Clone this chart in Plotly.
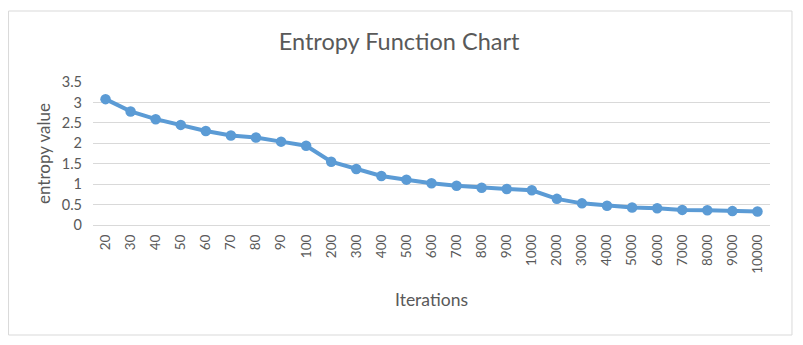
import plotly.graph_objects as go

iterations = ["20", "30", "40", "50", "60", "70", "80", "90", "100",
              "200", "300", "400", "500", "600", "700", "800", "900", "1000",
              "2000", "3000", "4000", "5000", "6000", "7000", "8000", "9000", "10000"]
entropy = [3.08, 2.78, 2.59, 2.45, 2.30, 2.19, 2.14, 2.04, 1.94,
           1.55, 1.37, 1.20, 1.11, 1.02, 0.96, 0.91, 0.88, 0.85,
           0.64, 0.53, 0.47, 0.43, 0.41, 0.37, 0.36, 0.34, 0.33]

FONT = "Lato"
GRAY = "#595959"

fig = go.Figure()
fig.add_trace(go.Scatter(
    x=iterations, y=entropy, mode="lines+markers",
    line=dict(color="#5B9BD5", width=4),
    marker=dict(color="#5B9BD5", size=10.5),
    showlegend=False,
))

fig.update_layout(
    width=803, height=345,
    margin=dict(l=92.5, r=33, t=82, b=120),
    paper_bgcolor="white", plot_bgcolor="white",
    font=dict(family=FONT, color=GRAY, size=14),
    title=dict(text="Entropy Function Chart", x=0.497, xanchor="center",
               y=1 - 42 / 345, yanchor="middle",
               font=dict(family=FONT, size=23.5, color=GRAY)),
    xaxis=dict(
        type="category", range=[-0.5, 26.5], tickangle=-90,
        showgrid=False, showline=False, zeroline=False, ticks="",
        ticklabelstandoff=6,
        tickfont=dict(size=13.5, color=GRAY, family=FONT),
        title=dict(text="Iterations", standoff=20,
                   font=dict(size=17.5, color=GRAY, family=FONT)),
    ),
    yaxis=dict(
        range=[0, 3.5], dtick=0.5, tickformat="",
        showgrid=True, gridcolor="#D9D9D9", gridwidth=1,
        zeroline=True, zerolinecolor="#D9D9D9", zerolinewidth=1,
        showline=False, ticks="", ticklabelstandoff=10,
        tickfont=dict(size=14.5, color=GRAY, family=FONT),
        title=dict(text="entropy value", standoff=6,
                   font=dict(size=17, color=GRAY, family=FONT)),
    ),
    shapes=[dict(type="rect", xref="paper", yref="paper",
                 x0=(8 - 92.5) / 677.5, x1=(792 - 92.5) / 677.5,
                 y0=-(335 - 225) / 143, y1=1 + (82 - 11) / 143,
                 line=dict(color="#D9D9D9", width=1), layer="below")],
)

fig.write_html("out.html")
